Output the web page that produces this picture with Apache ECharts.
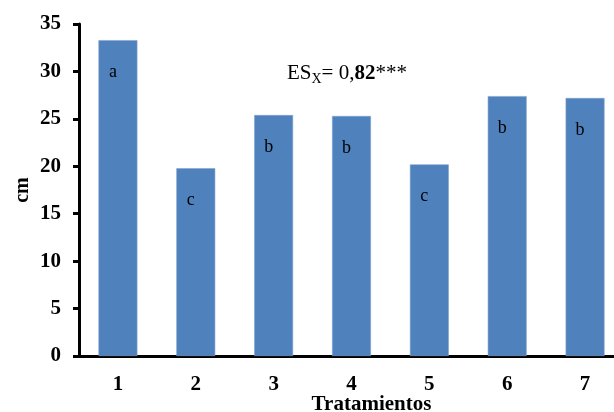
<!DOCTYPE html>
<html>
<head>
<meta charset="utf-8">
<script src="https://cdn.jsdelivr.net/npm/echarts@6/dist/echarts.min.js"></script>
<style>
  html, body { margin: 0; padding: 0; background: #fff; }
  #chart { width: 614px; height: 412px; }
</style>
</head>
<body>
<div id="chart"></div>
<script>
// Plant height per treatment (cm) with significance letters
const categories = ['1', '2', '3', '4', '5', '6', '7'];
const heights = [33.3, 19.8, 25.4, 25.3, 20.2, 27.4, 27.2];
const letters = ['a', 'c', 'b', 'b', 'c', 'b', 'b'];
const yTicks = [0, 5, 10, 15, 20, 25, 30, 35];

const serif = '"Liberation Serif", "Times New Roman", serif';

const chart = echarts.init(document.getElementById('chart'));

chart.setOption({
  animation: false,
  backgroundColor: '#ffffff',
  title: {
    left: 282,
    top: 58,
    text: '{n|ES}{s|X}{n|= 0,}{b|82}{n|***}',
    textStyle: {
      fontWeight: 'normal',
      rich: {
        n: { fontFamily: serif, fontSize: 21, fontWeight: 'normal', color: '#000', verticalAlign: 'bottom' },
        s: { fontFamily: serif, fontSize: 14, fontWeight: 'normal', color: '#000', verticalAlign: 'bottom', padding: [0, 0, -2, 0] },
        b: { fontFamily: serif, fontSize: 21, fontWeight: 'bold', color: '#000', verticalAlign: 'bottom' }
      }
    }
  },
  grid: {
    left: 79,
    top: 24,
    bottom: 56,
    width: 545,
    containLabel: false,
    outerBoundsMode: 'none'
  },
  xAxis: {
    type: 'category',
    data: categories,
    name: 'Tratamientos',
    nameLocation: 'middle',
    nameGap: 38,
    nameMoveOverlap: false,
    nameTextStyle: {
      fontFamily: serif, fontSize: 21, fontWeight: 'bold', color: '#000',
      padding: [0, 0, 0, 40]
    },
    axisLine: { lineStyle: { color: '#000', width: 3 } },
    axisTick: { show: false },
    axisLabel: {
      margin: 18,
      fontFamily: serif, fontSize: 21, fontWeight: 'bold', color: '#000'
    }
  },
  yAxis: {
    type: 'value',
    min: yTicks[0],
    max: yTicks[yTicks.length - 1],
    interval: 5,
    name: 'cm',
    nameLocation: 'middle',
    nameGap: 46,
    nameMoveOverlap: false,
    nameRotate: 90,
    nameTextStyle: {
      fontFamily: serif, fontSize: 20, fontWeight: 'bold', color: '#000'
    },
    splitLine: { show: false },
    axisLine: { show: true, lineStyle: { color: '#000', width: 3 } },
    axisTick: { show: true, length: 6, lineStyle: { color: '#000', width: 3 } },
    axisLabel: {
      margin: 18,
      fontFamily: serif, fontSize: 21, fontWeight: 'bold', color: '#000'
    }
  },
  series: [{
    type: 'bar',
    data: heights.map((v, i) => ({ value: v, label: { formatter: letters[i] } })),
    barWidth: '50%',
    itemStyle: { color: '#4F81BD', borderColor: '#7FA3D0', borderWidth: 0.6 },
    label: {
      show: true,
      position: 'insideTop',
      distance: 23,
      offset: [-5, 0],
      fontFamily: serif,
      fontSize: 18,
      color: '#000'
    }
  }]
});
</script>
</body>
</html>
